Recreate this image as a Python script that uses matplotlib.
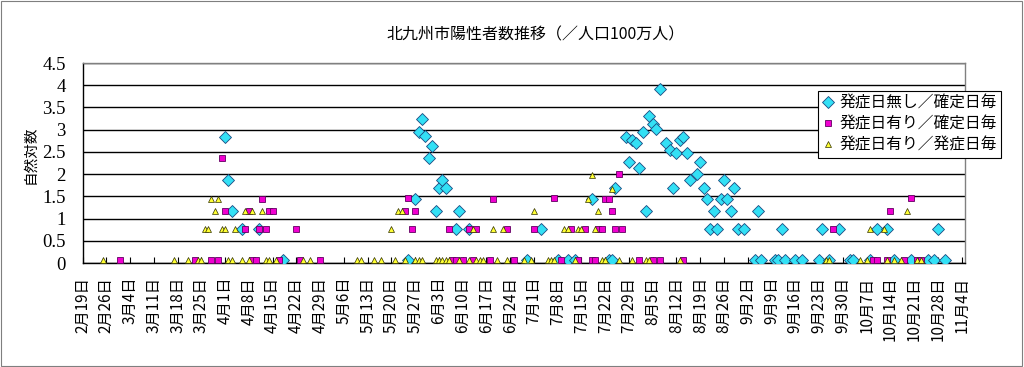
import matplotlib
matplotlib.use('Agg')
import matplotlib.pyplot as plt
import matplotlib.dates as mdates
from matplotlib.patches import Rectangle
import pandas as pd

plt.rcParams['font.family'] = ['Noto Sans CJK JP', 'DejaVu Sans']

title = '北九州市陽性者数推移（／人口100万人）'
ylabel = '自然対数'
labels = ['発症日無し／確定日毎', '発症日有り／確定日毎', '発症日有り／発症日毎']

# 発症日無し／確定日毎 (cyan diamonds)
cyan_dates = ['4/1', '4/2', '4/3', '4/6', '4/11', '4/18', '5/25', '5/27', '5/28', '5/29',
              '5/30', '5/31', '6/1', '6/2', '6/3', '6/4', '6/5', '6/8', '6/9', '6/12',
              '6/29', '7/3', '7/8', '7/11', '7/13', '7/18', '7/23', '7/24', '7/25', '7/28',
              '7/29', '7/30', '7/31', '8/1', '8/2', '8/3', '8/4', '8/5', '8/6', '8/7',
              '8/9', '8/10', '8/11', '8/12', '8/13', '8/14', '8/15', '8/16', '8/18', '8/19',
              '8/20', '8/21', '8/22', '8/23', '8/24', '8/25', '8/26', '8/27', '8/28', '8/29',
              '8/30', '9/1', '9/4', '9/5', '9/6', '9/10', '9/11', '9/12', '9/13', '9/16',
              '9/18', '9/23', '9/24', '9/26', '9/29', '10/2', '10/3', '10/8', '10/10', '10/13',
              '10/15', '10/20', '10/25', '10/27', '10/28', '10/30']
cyan_vals = [2.83, 1.87, 1.16, 0.76, 0.76, 0.06, 0.06, 1.45, 2.94, 3.24,
             2.85, 2.36, 2.64, 1.16, 1.68, 1.87, 1.68, 0.76, 1.16, 0.76,
             0.06, 0.76, 0.06, 0.06, 0.06, 1.45, 0.06, 0.06, 1.68, 2.83,
             2.27, 2.77, 2.70, 2.13, 2.95, 1.16, 3.30, 3.12, 3.01, 3.91,
             2.70, 2.55, 1.68, 2.47, 2.77, 2.83, 2.47, 1.87, 2.00, 2.27,
             1.68, 1.45, 0.76, 1.16, 0.76, 1.45, 1.87, 1.45, 1.16, 1.68,
             0.76, 0.76, 0.06, 1.16, 0.06, 0.06, 0.06, 0.76, 0.06, 0.06,
             0.06, 0.06, 0.76, 0.06, 0.76, 0.06, 0.06, 0.06, 0.76, 0.76,
             0.06, 0.06, 0.06, 0.06, 0.76, 0.06]

# 発症日有り／確定日毎 (magenta squares)
mag_dates = ['3/1', '3/23', '3/28', '3/30', '3/31', '4/1', '4/7', '4/8', '4/9', '4/10',
             '4/11', '4/12', '4/13', '4/14', '4/15', '4/17', '4/22', '4/23', '4/29', '5/24',
             '5/25', '5/26', '5/27', '6/6', '6/7', '6/8', '6/10', '6/12', '6/13', '6/14',
             '6/18', '6/19', '6/23', '6/25', '7/1', '7/7', '7/9', '7/12', '7/14', '7/16',
             '7/18', '7/19', '7/20', '7/21', '7/22', '7/23', '7/24', '7/25', '7/26', '7/27',
             '8/1', '8/5', '8/7', '8/14', '9/27', '10/9', '10/10', '10/13', '10/14', '10/18',
             '10/20', '10/22', '10/23']
mag_vals = [0.06, 0.06, 0.06, 0.06, 2.37, 1.16, 0.76, 1.16, 0.06, 0.06,
            0.76, 1.45, 0.76, 1.16, 1.16, 0.06, 0.76, 0.06, 0.06, 1.16,
            1.47, 0.76, 1.16, 0.76, 0.06, 0.06, 0.06, 0.76, 0.06, 0.76,
            0.06, 1.45, 0.76, 0.06, 0.76, 1.47, 0.06, 0.76, 0.06, 0.76,
            0.06, 0.06, 0.76, 0.76, 1.45, 1.45, 1.16, 0.76, 2.00, 0.76,
            0.06, 0.06, 0.06, 0.06, 0.76, 0.06, 0.06, 0.06, 1.16, 0.06,
            1.47, 0.06, 0.06]

# 発症日有り／発症日毎 (yellow triangles)
yel_dates = ['2/25', '3/17', '3/21', '3/24', '3/25', '3/26', '3/27', '3/28', '3/29', '3/30',
             '3/31', '4/1', '4/2', '4/3', '4/4', '4/6', '4/7', '4/8', '4/9', '4/12',
             '4/13', '4/14', '4/16', '4/24', '4/26', '5/10', '5/11', '5/15', '5/17', '5/20',
             '5/21', '5/22', '5/23', '5/24', '5/27', '5/28', '5/29', '6/2', '6/3', '6/4',
             '6/5', '6/6', '6/9', '6/12', '6/13', '6/14', '6/15', '6/16', '6/19', '6/20',
             '6/22', '6/23', '6/28', '6/30', '7/1', '7/5', '7/6', '7/7', '7/10', '7/11',
             '7/13', '7/14', '7/15', '7/17', '7/18', '7/19', '7/20', '7/21', '7/22', '7/24',
             '7/26', '7/30', '8/3', '8/4', '8/13', '9/25', '9/26', '10/5', '10/7', '10/8',
             '10/12', '10/13', '10/15', '10/17', '10/19', '10/22', '10/23']
yel_vals = [0.06, 0.06, 0.06, 0.06, 0.06, 0.76, 0.76, 1.45, 1.16, 1.45,
            0.76, 0.76, 0.06, 0.06, 0.76, 0.06, 1.16, 0.06, 1.16, 1.16,
            0.06, 0.06, 0.06, 0.06, 0.06, 0.06, 0.06, 0.06, 0.06, 0.76,
            0.06, 1.16, 1.16, 0.06, 0.06, 0.06, 0.06, 0.06, 0.06, 0.06,
            0.06, 0.06, 0.06, 0.06, 0.76, 0.06, 0.06, 0.06, 0.76, 0.06,
            0.76, 0.06, 0.06, 0.06, 1.16, 0.06, 0.06, 0.06, 0.76, 0.76,
            0.06, 0.76, 0.76, 1.45, 1.98, 0.76, 1.16, 0.06, 0.06, 1.67,
            0.06, 0.06, 0.06, 0.06, 0.06, 0.06, 0.06, 0.06, 0.06, 0.76,
            0.76, 0.06, 0.06, 0.06, 1.16, 0.06, 0.06]


def to_dt(lst):
    return pd.to_datetime(['2020/' + s for s in lst], format='%Y/%m/%d')


start = pd.Timestamp('2020-02-19')
end = pd.Timestamp('2020-11-05')
ticks = pd.date_range('2020-02-19', '2020-11-04', freq='7D')

fig = plt.figure(figsize=(10.24, 3.67), dpi=100)
ax = fig.add_axes([82.5 / 1024, 1 - 263 / 367, (965 - 82.5) / 1024, 200 / 367])

ax.plot(to_dt(cyan_dates), cyan_vals, ls='none', marker='D', ms=6.3,
        mfc='#33E0F5', mec='#1A4A80', mew=0.6, label=labels[0], zorder=3)
ax.plot(to_dt(mag_dates), mag_vals, ls='none', marker='s', ms=3.8,
        mfc='#F000D0', mec='#600060', mew=0.6, label=labels[1], zorder=4)
ax.plot(to_dt(yel_dates), yel_vals, ls='none', marker='^', ms=4.6,
        mfc='#FFFF33', mec='#303000', mew=0.5, label=labels[2], zorder=5)

ax.set_xlim(start, end)
ax.set_ylim(0, 4.5)
ax.set_yticks([i * 0.5 for i in range(10)])
ax.set_yticklabels(['%g' % (i * 0.5) for i in range(10)], family='Liberation Serif', fontsize=13.5)
ax.set_xticks(ticks)
ax.set_xticklabels(['%d月%d日' % (t.month, t.day) for t in ticks], rotation=90, fontsize=11)

ax.tick_params(axis='x', direction='in', length=4, width=0.8, pad=10)
ax.tick_params(axis='y', length=0, pad=12)

ax.set_axisbelow(True)
ax.yaxis.grid(True, color='black', lw=1.0)
for s in ['top', 'right']:
    ax.spines[s].set_color('#808080')
    ax.spines[s].set_linewidth(1.0)
for s in ['left', 'bottom']:
    ax.spines[s].set_color('black')
    ax.spines[s].set_linewidth(1.0)

fig.text(536 / 1024, 1 - 35 / 367, title, ha='center', va='center', fontsize=11.5)
fig.text(30 / 1024, 1 - 155 / 367, ylabel, rotation=90, ha='center', va='center', fontsize=10.5)

leg = ax.legend(loc='upper left', bbox_to_anchor=(818 / 1024, 1 - 91 / 367),
                bbox_transform=fig.transFigure, fancybox=False, edgecolor='black',
                framealpha=1, fontsize=11.3, handlelength=0.8, handletextpad=0.3,
                borderpad=0.25, labelspacing=0.25, borderaxespad=0)
leg.get_frame().set_linewidth(0.8)

fig.patches.append(Rectangle((0.001, 0.003), 0.997, 0.993, transform=fig.transFigure,
                             fill=False, ec='#7f7f7f', lw=0.8))

fig.savefig('out.png', dpi=100)
